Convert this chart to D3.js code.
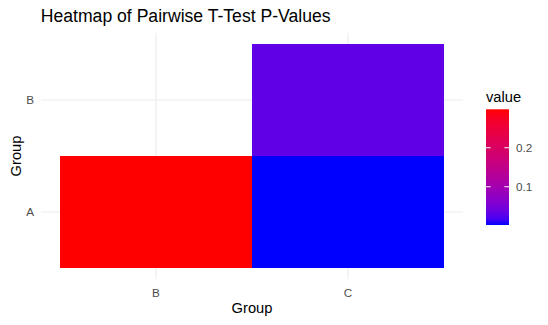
<!DOCTYPE html>
<html>
<head>
<meta charset="utf-8">
<script src="https://cdn.jsdelivr.net/npm/d3@7"></script>
<style>
  html, body { margin: 0; padding: 0; background: #fff; }
  svg { display: block; font-family: "Liberation Sans", Arial, sans-serif; }
</style>
</head>
<body>
<svg id="chart" width="548" height="325"></svg>
<script>
// Groups on each axis
const xGroups = ["B", "C"];
const yGroups = ["A", "B"];
// Pairwise comparisons and their p-values
const pairX = ["B", "C", "C"];
const pairY = ["A", "A", "B"];
const pValues = [0.2985, 0.002, 0.031];
// Colour bar breaks
const legendBreaks = [0.1, 0.2];

const cells = pValues.map((v, i) => ({ x: pairX[i], y: pairY[i], value: v }));

const svg = d3.select("#chart");
const W = 548, H = 325;
const panel = { left: 40.8, right: 463.2, top: 32.8, bottom: 279.2 };

// Discrete scales with ggplot-style expansion (0.6 units each side)
const xPos = d3.scaleLinear()
  .domain([0.4, xGroups.length + 0.6])
  .range([panel.left, panel.right]);
const yPos = d3.scaleLinear()
  .domain([0.4, yGroups.length + 0.6])
  .range([panel.bottom, panel.top]);
const xIndex = g => xGroups.indexOf(g) + 1;
const yIndex = g => yGroups.indexOf(g) + 1;

const extent = d3.extent(pValues);
const color = d3.scaleLinear()
  .domain(extent)
  .range(["blue", "red"])
  .interpolate(d3.interpolateLab);

// Grid lines
const grid = svg.append("g");
xGroups.forEach(g => {
  grid.append("line")
    .attr("x1", xPos(xIndex(g))).attr("x2", xPos(xIndex(g)))
    .attr("y1", panel.top).attr("y2", panel.bottom)
    .attr("stroke", "#EBEBEB").attr("stroke-width", 1.07);
});
yGroups.forEach(g => {
  grid.append("line")
    .attr("x1", panel.left).attr("x2", panel.right)
    .attr("y1", yPos(yIndex(g))).attr("y2", yPos(yIndex(g)))
    .attr("stroke", "#EBEBEB").attr("stroke-width", 1.07);
});

// Tiles
svg.append("g").selectAll("rect")
  .data(cells)
  .join("rect")
  .attr("x", d => xPos(xIndex(d.x) - 0.5))
  .attr("width", d => xPos(xIndex(d.x) + 0.5) - xPos(xIndex(d.x) - 0.5))
  .attr("y", d => yPos(yIndex(d.y) + 0.5))
  .attr("height", d => yPos(yIndex(d.y) - 0.5) - yPos(yIndex(d.y) + 0.5))
  .attr("fill", d => color(d.value));

// Axis labels
const tickColor = "#4D4D4D";
svg.append("g").selectAll("text")
  .data(xGroups)
  .join("text")
  .attr("x", d => xPos(xIndex(d)))
  .attr("y", 297)
  .attr("text-anchor", "middle")
  .attr("font-size", 11.7)
  .attr("fill", tickColor)
  .text(d => d);
svg.append("g").selectAll("text")
  .data(yGroups)
  .join("text")
  .attr("x", 34)
  .attr("y", d => yPos(yIndex(d)) + 4.2)
  .attr("text-anchor", "end")
  .attr("font-size", 11.7)
  .attr("fill", tickColor)
  .text(d => d);

// Axis titles
svg.append("text")
  .attr("x", (panel.left + panel.right) / 2)
  .attr("y", 313)
  .attr("text-anchor", "middle")
  .attr("font-size", 14.7)
  .attr("fill", "#000")
  .text("Group");
svg.append("text")
  .attr("transform", `translate(20.5,${(panel.top + panel.bottom) / 2}) rotate(-90)`)
  .attr("text-anchor", "middle")
  .attr("font-size", 14.7)
  .attr("fill", "#000")
  .text("Group");

// Title
svg.append("text")
  .attr("x", 40.8)
  .attr("y", 22)
  .attr("font-size", 17.6)
  .attr("fill", "#000")
  .text("Heatmap of Pairwise T-Test P-Values");

// Colour bar legend
const bar = { x: 486, w: 23, top: 109.3, bottom: 225 };
const legendScale = d3.scaleLinear().domain(extent).range([bar.bottom, bar.top]);
const defs = svg.append("defs");
const grad = defs.append("linearGradient")
  .attr("id", "pgrad")
  .attr("x1", 0).attr("y1", 1).attr("x2", 0).attr("y2", 0);
d3.range(0, 1.0001, 0.05).forEach(t => {
  grad.append("stop")
    .attr("offset", t)
    .attr("stop-color", color(extent[0] + t * (extent[1] - extent[0])));
});
svg.append("rect")
  .attr("x", bar.x).attr("y", bar.top)
  .attr("width", bar.w).attr("height", bar.bottom - bar.top)
  .attr("fill", "url(#pgrad)");
const lg = svg.append("g");
legendBreaks.forEach(b => {
  const y = legendScale(b);
  lg.append("line").attr("x1", bar.x).attr("x2", bar.x + 4.6)
    .attr("y1", y).attr("y2", y).attr("stroke", "#fff").attr("stroke-width", 1);
  lg.append("line").attr("x1", bar.x + bar.w - 4.6).attr("x2", bar.x + bar.w)
    .attr("y1", y).attr("y2", y).attr("stroke", "#fff").attr("stroke-width", 1);
  lg.append("text")
    .attr("x", bar.x + bar.w + 7)
    .attr("y", y + 4.2)
    .attr("font-size", 11.7)
    .attr("fill", tickColor)
    .text(d3.format(".1f")(b));
});
svg.append("text")
  .attr("x", bar.x)
  .attr("y", 102)
  .attr("font-size", 14.7)
  .attr("fill", "#000")
  .text("value");
</script>
</body>
</html>
